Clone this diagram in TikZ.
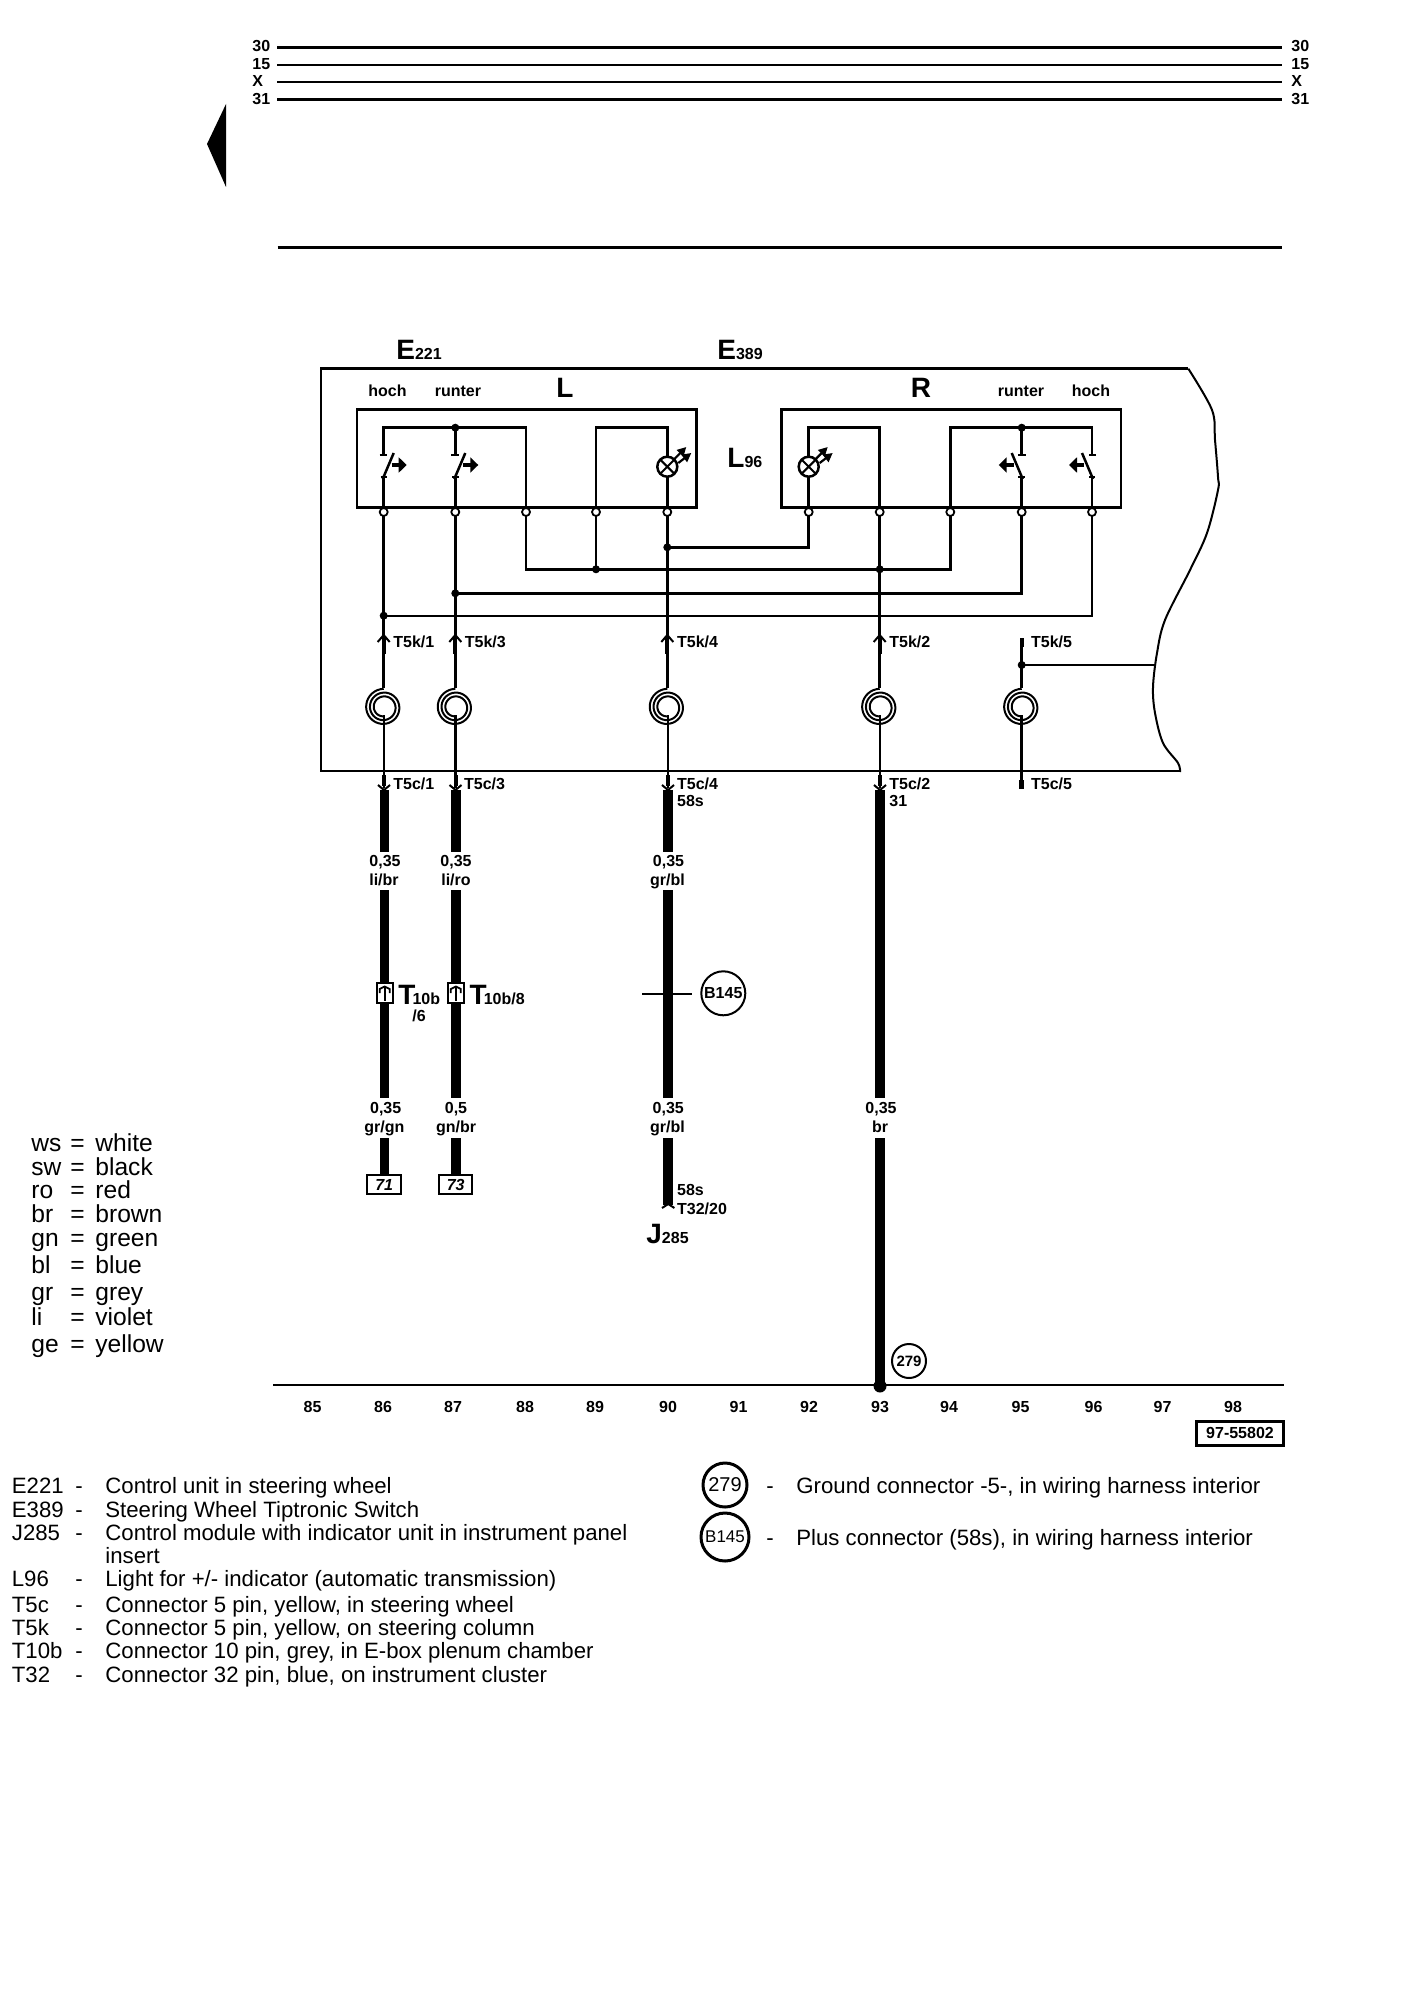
\documentclass[tikz,border=0pt]{standalone}
\usepackage{fontspec}
\setmainfont{Liberation Sans}
\usetikzlibrary{arrows.meta}
\newcommand\fsz[1]{\fontsize{#1}{#1}\selectfont}
\newcommand\bigsmall[2]{{\bfseries\fsz{14}#1}{\bfseries\fsz{8}#2}}
% spiral at x
\newcommand\spiralat[1]{\draw[thinwire,shift={(#1,707.3)}] plot[domain=990:90,samples=91,smooth] ({(9+9.5*(990-\x)/900)*cos(\x)},{-(9+9.5*(990-\x)/900)*sin(\x)});}
\newcommand\upcap[1]{\draw[thinwire] ({#1-6},642) -- (#1,635) -- ({#1+6},642); \draw[line width=2pt] (#1,638) -- (#1,654);}
\newcommand\downcap[1]{\draw[line width=2pt] (#1,775) -- (#1,786); \draw[thinwire] ({#1-6},785) -- (#1,790) -- ({#1+6},785);}
\newcommand\lamp[1]{%
  \draw[wire,fill=white] (#1,466.7) circle (10);
  \draw[thinwire] ({#1-7},459.7) -- ({#1+7},473.7) ({#1-7},473.7) -- ({#1+7},459.7);
  \draw[line width=1.1pt,-{Triangle[length=4.5pt,width=4.5pt]}] ({#1+6},460) -- ({#1+19},447);
  \draw[line width=1.1pt,-{Triangle[length=4.5pt,width=4.5pt]}] ({#1+11},463) -- ({#1+24},453);}
% switch: x, direction (+1 left group / -1 right group)
\newcommand\switch[2]{%
  \draw[thinwire] ({#1-4*#2},455) -- ({#1+3.5*#2},455);
  \draw[thinwire] ({#1-3*#2},476.5) -- ({#1+3.5*#2},476.5);
  \draw[wire] ({#1-1*#2},479) -- ({#1+10*#2},453);
  \draw[line width=2pt,-{Triangle[length=4pt,width=7.5pt]}] ({#1+8*#2},465) -- ({#1+23*#2},465);}
\newcommand\plugbox[1]{%
  \draw[line width=1.2pt,fill=white] ({#1-8},983) rectangle ({#1+8},1003);
  \draw[line width=.9pt] ({#1-5},993) -- ({#1-5},989) -- (#1,986.5) -- ({#1+5},989) -- ({#1+5},993);
  \draw[line width=.9pt] (#1,987) -- (#1,1001);}
\tikzset{
  wire/.style={line width=1.25pt},
  thinwire/.style={line width=1pt},
  thick wire/.style={line width=4.8pt},
  frameline/.style={line width=1.25pt},
  lab/.style={font=\bfseries\fsz{8},inner sep=0pt,anchor=west,text height=5.8pt,text depth=0pt},
  clab/.style={lab,anchor=center},
  big/.style={inner sep=0pt,anchor=base west},
  term/.style={circle,draw=black,line width=.9pt,fill=white,minimum size=4pt,inner sep=0pt},
  legend/.style={font=\fsz{11.1},inner sep=0pt,anchor=west,text height=8pt,text depth=0pt},
  colleg/.style={font=\fsz{12.3},inner sep=0pt,anchor=west,text height=8.8pt,text depth=0pt},
}
\begin{document}
\begin{tikzpicture}[x=0.5pt,y=-0.5pt]
\useasboundingbox (0,0) rectangle (1408,2000);
\fill[white] (0,0) rectangle (1408,2000);

% ---------- top rails
\foreach \n/\y/\ly/\t/\w in {a/47.3/45.7/30/1.5pt,b/64.7/63.3/15/1pt,c/81.7/81/X/1pt,d/99.3/98.3/31/1.4pt}{
  \node[lab] (raill\n) at (252,\ly) {\t};
  \node[lab] (railr\n) at (1291,\ly) {\t};
  \coordinate (rs\n) at (277,\y);
  \coordinate (re\n) at (1282,\y);
  \draw[line width=\w] (rs\n) -- (re\n);
}
\fill (207,144) -- (226,104) -- (226,187) -- cycle;
\coordinate (sepa) at (277.5,247.3);
\coordinate (sepb) at (1282,247.3);
\draw[line width=1.5pt] (sepa) -- (sepb);

% ---------- titles
\node[big] (e221) at (396,360) {\bigsmall{E}{221}};
\node[big] (e389) at (717,360) {\bigsmall{E}{389}};
\node[inner sep=0pt,font=\bfseries\fsz{14}] (bigL) at (565,388) {L};
\node[inner sep=0pt,font=\bfseries\fsz{14}] (bigR) at (921,388) {R};
\node[big] (l96) at (727,467) {\bigsmall{L}{96}};
\node[clab] (h1) at (387.5,391) {hoch};
\node[clab] (r1) at (458,391) {runter};
\node[clab] (r2) at (1021,391) {runter};
\node[clab] (h2) at (1091,391) {hoch};

% ---------- outer outline
\draw[line width=1.2pt,line join=miter] (1180,771) -- (321,771) -- (321,368.7) -- (1188.3,368.7);
\draw[line width=1pt] plot[smooth,tension=.55] coordinates {(1188.3,368.7) (1212,410) (1215,440) (1218,477) (1218,490) (1207,533) (1190,570) (1165,620) (1157,653) (1153,687) (1155,713) (1163,743) (1178,763) (1180,772)};

% ---------- inner boxes
\draw[frameline] (357,409.3) rectangle (696.7,507.7);
\draw[frameline] (781.3,409.3) rectangle (1121,507.7);

% ---------- named points
\foreach \i/\x in {1/383.7,2/455.3,3/526,4/596,5/667.3,6/808.7,7/879.7,8/950.3,9/1021.7,10/1092}{
  \coordinate (top\i) at (\x,427.7);
  \coordinate (sw\i) at (\x,455);
  \coordinate (low\i) at (\x,476.5);
  \coordinate (lamp\i) at (\x,456.7);
  \coordinate (lampb\i) at (\x,476.7);
  \coordinate (pin\i) at (\x,512);
}
\coordinate (j5) at (667.3,547.3);
\coordinate (j6) at (808.7,547.3);
\coordinate (j3) at (526,569.3);
\coordinate (j4) at (596,569.3);
\coordinate (j7) at (879.7,569.3);
\coordinate (j8) at (950.3,569.3);
\coordinate (j2) at (455.3,593.3);
\coordinate (j9) at (1021.7,593.3);
\coordinate (j1) at (383.7,615.7);
\coordinate (j10) at (1092,615.7);
\coordinate (s1) at (383.7,687.5);
\coordinate (s2) at (455.3,687.5);
\coordinate (s5) at (667.3,687.5);
\coordinate (s7) at (879.7,687.5);
\coordinate (s9) at (1021.7,687.5);
\coordinate (u1) at (384,715);
\coordinate (u2) at (455.5,715);
\coordinate (u5) at (668,715);
\coordinate (u7) at (880,715);
\coordinate (u9) at (1021.7,715);
\coordinate (d1) at (384,788);
\coordinate (d2) at (455.5,788);
\coordinate (d5) at (668,788);
\coordinate (d7) at (880,788);
\coordinate (d9) at (1021.7,788);
\coordinate (k9) at (1021.7,638);
\coordinate (k9j) at (1021.7,665);
\coordinate (k9e) at (1155.7,665);

% ---------- wiring inside boxes
\draw[wire] (sw1) -- (top1) -- (top3) -- (pin3);
\draw[wire] (top2) -- (sw2);
\draw[wire] (low1) -- (pin1);
\draw[wire] (low2) -- (pin2);
\draw[wire] (lampb5) -- (pin5);
\draw[wire] (lamp5) -- (top5) -- (top4) -- (pin4);
\draw[wire] (lampb6) -- (pin6);
\draw[wire] (lamp6) -- (top6) -- (top7) -- (pin7);
\draw[wire] (pin8) -- (top8) -- (top10) -- (sw10);
\draw[wire] (top9) -- (sw9);
\draw[wire] (low9) -- (pin9);
\draw[wire] (low10) -- (pin10);

% ---------- cross wiring
\draw[wire] (pin3) -- (j3) -- (j8) -- (pin8);
\draw[wire] (pin4) -- (j4);
\draw[wire] (j5) -- (j6) -- (pin6);
\draw[wire] (pin9) -- (j9) -- (j2);
\draw[thinwire] (pin10) -- (j10) -- (j1);
\draw[wire] (pin1) -- (s1);
\draw[wire] (pin2) -- (s2);
\draw[wire] (pin5) -- (s5);
\draw[wire] (pin7) -- (s7);
\draw[wire] (k9) -- (s9);
\draw[wire] (k9j) -- (k9e);
\draw[wire] (u1) -- (d1);
\draw[wire] (u2) -- (d2);
\draw[wire] (u5) -- (d5);
\draw[wire] (u7) -- (d7);
\draw[wire] (u9) -- (d9);

% ---------- junction dots
\foreach \c in {j5,j4,j7,j2,j1,k9j,top2,top9}{\fill (\c) circle (4);}
\foreach \i in {1,...,10}{\node[term] (tm\i) at (pin\i) {};}

% ---------- symbols
\switch{383.7}{1}
\switch{455.3}{1}
\switch{1021.7}{-1}
\switch{1092}{-1}
\lamp{667.3}
\lamp{808.7}
\foreach \x in {383.7,455.3,667.3,879.7,1021.7}{\spiralat{\x}}
\upcap{383.7}
\upcap{455.3}
\upcap{667.3}
\upcap{879.7}
\draw[line width=2.2pt] (1021.7,638) -- (1021.7,647);
\downcap{384}
\downcap{455.5}
\downcap{668}
\downcap{880}
\draw[line width=2.5pt] (1021.7,780) -- (1021.7,788.5);

% ---------- connector labels
\node[lab] (k1) at (393,642) {T5k/1};
\node[lab] (k3) at (464.5,642) {T5k/3};
\node[lab] (k4) at (676.7,642) {T5k/4};
\node[lab] (k2) at (889,642) {T5k/2};
\node[lab] (k5) at (1030.7,642) {T5k/5};
\node[lab] (c1) at (393,783.5) {T5c/1};
\node[lab] (c3) at (463.7,783.5) {T5c/3};
\node[lab] (c4) at (676.7,783.5) {T5c/4};
\node[lab] (c2) at (889,783.5) {T5c/2};
\node[lab] (c5) at (1030.7,783.5) {T5c/5};
\node[lab] (s58) at (676.7,801) {58s};
\node[lab] (g31) at (889,801) {31};

% ---------- heavy wires
\coordinate (w1a) at (384.4,790);  \coordinate (w1b) at (384.4,851.7);
\coordinate (w1c) at (384.4,890);  \coordinate (w1d) at (384.4,1098.3);
\coordinate (w1e) at (384.4,1138.3); \coordinate (w1f) at (384.4,1175);
\coordinate (w2a) at (455.8,790);  \coordinate (w2b) at (455.8,851.7);
\coordinate (w2c) at (455.8,890);  \coordinate (w2d) at (455.8,1098.3);
\coordinate (w2e) at (455.8,1138.3); \coordinate (w2f) at (455.8,1175);
\coordinate (w3a) at (668.2,790);  \coordinate (w3b) at (668.2,851.7);
\coordinate (w3c) at (668.2,890);  \coordinate (w3d) at (668.2,1098.3);
\coordinate (w3e) at (668.2,1138.3); \coordinate (w3f) at (668.2,1205);
\coordinate (w4a) at (880,790);  \coordinate (w4d) at (880,1098.3);
\coordinate (w4e) at (880,1138.3); \coordinate (w4f) at (880,1386);
\draw[thick wire] (w1a) -- (w1b) (w1c) -- (w1d) (w1e) -- (w1f);
\draw[thick wire] (w2a) -- (w2b) (w2c) -- (w2d) (w2e) -- (w2f);
\draw[thick wire] (w3a) -- (w3b) (w3c) -- (w3d) (w3e) -- (w3f);
\draw[thick wire] (w4a) -- (w4d) (w4e) -- (w4f);
\draw[thinwire] (662,1208) -- (668.2,1204) -- (674.4,1208);

\node[clab] (a1) at (385,861) {0,35};
\node[clab] (b1) at (384,880) {li/br};
\node[clab] (a2) at (456,861) {0,35};
\node[clab] (b2) at (456,880) {li/ro};
\node[clab] (a3) at (668.5,861) {0,35};
\node[clab] (b3) at (667.5,880) {gr/bl};
\node[clab] (a4) at (385.7,1107.7) {0,35};
\node[clab] (b4) at (384.3,1126.7) {gr/gn};
\node[clab] (a5) at (456,1107.7) {0,5};
\node[clab] (b5) at (456,1126.7) {gn/br};
\node[clab] (a6) at (668.3,1107.7) {0,35};
\node[clab] (b6) at (667.5,1126.7) {gr/bl};
\node[clab] (a7) at (881,1107.7) {0,35};
\node[clab] (b7) at (880,1126.7) {br};

% ---------- T10b
\plugbox{384.7}
\plugbox{455.8}
\node[big] (t10a) at (398,1004) {{\bfseries\fsz{14}T}\kern-1.5pt{\bfseries\fsz{8}10b}};
\node[big] (t10b) at (469.3,1004) {{\bfseries\fsz{14}T}\kern-1.5pt{\bfseries\fsz{8}10b/8}};
\node[lab] (t6) at (412,1016) {/6};

% ---------- B145
\coordinate (bl) at (642.3,994.3);
\coordinate (br) at (691.7,994.3);
\coordinate (bj) at (668.2,994.3);
\draw[line width=1pt] (bl) -- (br);
\fill (bj) circle (4.5);
\node[circle,draw,line width=1pt,minimum size=22pt,inner sep=0pt,font=\bfseries\fsz{8}] (b145) at (723.3,993.3) {B145};

% ---------- end boxes
\node[draw,line width=1.2pt,minimum width=17pt,minimum height=9.5pt,inner sep=0pt,fill=white,font=\bfseries\itshape\fsz{8}] (p71) at (384.2,1184.7) {71};
\node[draw,line width=1.2pt,minimum width=16.5pt,minimum height=9.5pt,inner sep=0pt,fill=white,font=\bfseries\itshape\fsz{8}] (p73) at (455.7,1184.7) {73};

\node[lab] (s58b) at (676.7,1189.3) {58s};
\node[lab] (t32) at (676.7,1209) {T32/20};
\node[big] (j285) at (646,1243.3) {\bigsmall{J}{285}};

% ---------- ground
\coordinate (gl) at (273,1385);
\coordinate (gr) at (1284,1385);
\draw[line width=1.2pt] (gl) -- (gr);
\fill (w4f) circle (6.5);
\node[circle,draw,line width=1pt,minimum size=17pt,inner sep=0pt,font=\bfseries\fsz{7.5}] (g279) at (909,1361) {279};

\foreach \n/\x in {85/312.5,86/383,87/453,88/525,89/595,90/668,91/738.5,92/809,93/880,94/949,95/1020.5,96/1093.5,97/1162.5,98/1233}{
  \node[clab] (col\n) at (\x,1407) {\n};
}
\node[draw,line width=1.5pt,minimum width=43.5pt,minimum height=12pt,inner sep=0pt,font=\bfseries\fsz{8}] (docid) at (1240,1433) {97-55802};

% ---------- colour legend
\foreach \i/\y/\a/\b in {1/1143/ws/white,2/1167/sw/black,3/1190/ro/red,4/1214/br/brown,5/1238/gn/green,6/1265/bl/blue,7/1292/gr/grey,8/1317/li/violet,9/1344/ge/yellow}{
  \node[colleg] (ca\i) at (31,\y) {\a};
  \node[colleg] (ce\i) at (70,\y) {=};
  \node[colleg] (cb\i) at (95,\y) {\b};
}

% ---------- key
\foreach \i/\y/\a/\b in {
 1/1485/E221/{Control unit in steering wheel},
 2/1509/E389/{Steering Wheel Tiptronic Switch},
 3/1532/J285/{Control module with indicator unit in instrument panel},
 5/1578/L96/{Light for +/- indicator (automatic transmission)},
 6/1604/T5c/{Connector 5 pin, yellow, in steering wheel},
 7/1627/T5k/{Connector 5 pin, yellow, on steering column},
 8/1650/T10b/{Connector 10 pin, grey, in E-box plenum chamber},
 9/1674/T32/{Connector 32 pin, blue, on instrument cluster}}{
  \node[legend] (ka\i) at (11.5,\y) {\a};
  \node[legend] (kd\i) at (75,\y) {-};
  \node[legend] (kb\i) at (105,\y) {\b};
}
\node[legend] (kb4) at (105,1555) {insert};

\node[circle,draw,line width=1.5pt,minimum size=22pt,inner sep=0pt,font=\fsz{10}] (k279) at (725,1485) {279};
\node[circle,draw,line width=1.5pt,minimum size=24pt,inner sep=0pt,font=\fsz{8.5}] (k145) at (725,1537) {B145};
\node[legend] (kd10) at (766,1485) {-};
\node[legend] (kd11) at (766,1537) {-};
\node[legend] (kb10) at (796,1485) {Ground connector -5-, in wiring harness interior};
\node[legend] (kb11) at (796,1537) {Plus connector (58s), in wiring harness interior};
\end{tikzpicture}
\end{document}
